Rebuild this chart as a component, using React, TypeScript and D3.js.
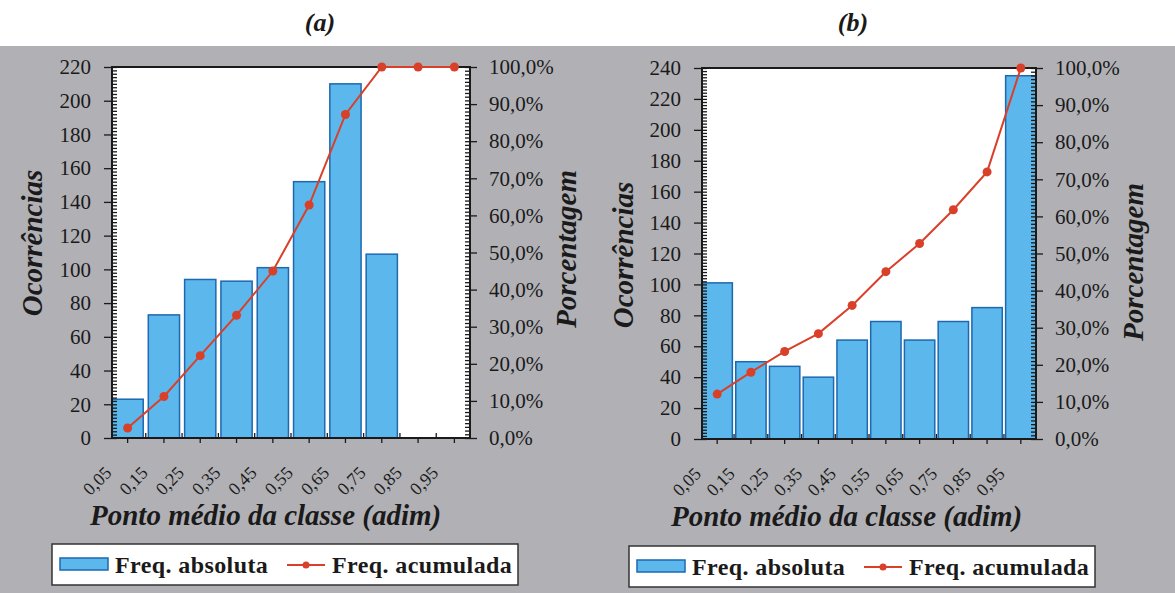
import React, {useEffect, useRef} from 'react';
import * as d3 from 'd3';

const classLabels = ['0,05', '0,15', '0,25', '0,35', '0,45', '0,55', '0,65', '0,75', '0,85', '0,95'];

// panel (a)
const freqAbsolutaA = [23, 73, 94, 93, 101, 152, 210, 109, 0, 0];
const freqAcumuladaA = [2.7, 11.2, 22.2, 33.1, 45.0, 62.8, 87.2, 100, 100, 100];
const countTicksA = [0, 20, 40, 60, 80, 100, 120, 140, 160, 180, 200, 220];

// panel (b)
const freqAbsolutaB = [101, 50, 47, 40, 64, 76, 64, 76, 85, 235];
const freqAcumuladaB = [12.1, 18.0, 23.6, 28.4, 36.0, 45.1, 52.7, 61.8, 72.0, 100];
const countTicksB = [0, 20, 40, 60, 80, 100, 120, 140, 160, 180, 200, 220, 240];

const percentTicks = [0, 10, 20, 30, 40, 50, 60, 70, 80, 90, 100];

const SERIF = 'Liberation Serif';
const BAR_FILL = '#5cb8ec';
const BAR_STROKE = '#1d68b0';
const LINE_RED = '#d8402a';
const INK = '#1a1a1a';

const panels = [
  {
    key: 'a', title: '(a)', titleX: 320,
    counts: freqAbsolutaA, cumul: freqAcumuladaA, countTicks: countTicksA,
    frame: {l: 112, r: 470, t: 67, b: 438}, pad: 0.14,
    yTitle: [42, 243], pTitle: [576, 249], xTitle: [90, 525],
    legend: {x: 52, y: 544, w: 466, h: 41}
  },
  {
    key: 'b', title: '(b)', titleX: 853,
    counts: freqAbsolutaB, cumul: freqAcumuladaB, countTicks: countTicksB,
    frame: {l: 702, r: 1036, t: 68, b: 439}, pad: 0.1,
    yTitle: [633, 255], pTitle: [1143, 262], xTitle: [671, 526],
    legend: {x: 629, y: 546, w: 466, h: 41}
  }
];

function styleAxis(sel: any, size: number) {
  sel.select('.domain').remove();
  sel.attr('font-family', SERIF).attr('font-size', size);
  sel.selectAll('line').attr('stroke', INK).attr('stroke-width', 1.3);
  sel.selectAll('text').attr('fill', INK).attr('font-family', SERIF);
}

function drawPanel(root: any, p: any) {
  const {l, r, t, b} = p.frame;
  const g = root.append('g');

  const x = d3.scaleBand().domain(classLabels).range([l, r]).paddingInner(p.pad).paddingOuter(0);
  const yMax = p.countTicks[p.countTicks.length - 1];
  const y = d3.scaleLinear().domain([0, yMax]).range([b, t]);
  const yp = d3.scaleLinear().domain([0, 100]).range([b, t]);
  const bw = x.bandwidth();

  // title
  g.append('text')
    .attr('x', p.titleX).attr('y', 31)
    .attr('text-anchor', 'middle')
    .attr('font-family', SERIF).attr('font-size', 26)
    .attr('font-weight', 'bold').attr('font-style', 'italic')
    .attr('fill', INK)
    .text(p.title);

  // plot area
  g.append('rect').attr('x', l).attr('y', t).attr('width', r - l).attr('height', b - t).attr('fill', '#fff');

  const barData = p.counts.map((v: number, i: number) => ({v, c: classLabels[i]})).filter((d: any) => d.v > 0);
  g.selectAll('rect.bar').data(barData).join('rect')
    .attr('class', 'bar')
    .attr('x', (d: any) => x(d.c))
    .attr('y', (d: any) => y(d.v))
    .attr('width', bw)
    .attr('height', (d: any) => b - y(d.v))
    .attr('fill', BAR_FILL)
    .attr('stroke', BAR_STROKE)
    .attr('stroke-width', 1.5);

  // left axis
  const minorCount = d3.range(0, yMax + 1, 2);
  g.append('g').attr('transform', `translate(${l},0)`)
    .call(d3.axisLeft(y).tickValues(minorCount).tickSize(-5).tickFormat(() => '') as any)
    .call((s: any) => styleAxis(s, 21));
  g.append('g').attr('transform', `translate(${l},0)`)
    .call(d3.axisLeft(y).tickValues(p.countTicks).tickSize(8).tickPadding(13) as any)
    .call((s: any) => styleAxis(s, 21));

  // right axis
  g.append('g').attr('transform', `translate(${r},0)`)
    .call(d3.axisRight(yp).tickValues(d3.range(0, 101, 1)).tickSize(-5).tickFormat(() => '') as any)
    .call((s: any) => styleAxis(s, 21));
  g.append('g').attr('transform', `translate(${r},0)`)
    .call(d3.axisRight(yp).tickValues(percentTicks).tickSize(7).tickPadding(12)
      .tickFormat((d: any) => `${d},0%`) as any)
    .call((s: any) => styleAxis(s, 21));

  // bottom ticks: centres outside, band boundaries inside
  g.append('g').attr('transform', `translate(0,${b})`)
    .call(d3.axisBottom(x).tickSize(5).tickFormat(() => '') as any)
    .call((s: any) => styleAxis(s, 18));
  const step = x.step();
  g.selectAll('line.bound').data(classLabels.slice(1)).join('line')
    .attr('class', 'bound')
    .attr('x1', (d: string) => (x(d) as number) - (step - bw) / 2)
    .attr('x2', (d: string) => (x(d) as number) - (step - bw) / 2)
    .attr('y1', b).attr('y2', b - 5)
    .attr('stroke', INK).attr('stroke-width', 1.3);

  // rotated class labels
  g.selectAll('text.xlab').data(classLabels).join('text')
    .attr('class', 'xlab')
    .attr('transform', (d: string) => `translate(${(x(d) as number) + bw / 2 - 15},${b + 36}) rotate(-45)`)
    .attr('text-anchor', 'end')
    .attr('font-family', SERIF).attr('font-size', 18)
    .attr('fill', INK)
    .text((d: string) => d);

  // frame
  g.append('rect').attr('x', l).attr('y', t).attr('width', r - l).attr('height', b - t)
    .attr('fill', 'none').attr('stroke', INK).attr('stroke-width', 2);

  // cumulative line
  const pts = p.cumul.map((v: number, i: number) => ({v, c: classLabels[i]}));
  const line = d3.line<any>()
    .x(d => (x(d.c) as number) + bw / 2)
    .y(d => yp(d.v));
  g.append('path').datum(pts).attr('d', line as any)
    .attr('fill', 'none').attr('stroke', LINE_RED).attr('stroke-width', 2);
  g.selectAll('circle.pt').data(pts).join('circle')
    .attr('class', 'pt')
    .attr('cx', (d: any) => (x(d.c) as number) + bw / 2)
    .attr('cy', (d: any) => yp(d.v))
    .attr('r', 4.5)
    .attr('fill', LINE_RED);

  // axis titles
  const titleText = (tx: number, ty: number, txt: string, rot: boolean) => {
    g.append('text')
      .attr('transform', `translate(${tx},${ty})` + (rot ? ' rotate(-90)' : ''))
      .attr('text-anchor', rot ? 'middle' : 'start')
      .attr('font-family', SERIF).attr('font-size', 29)
      .attr('font-weight', 'bold').attr('font-style', 'italic')
      .attr('fill', INK)
      .text(txt);
  };
  titleText(p.yTitle[0], p.yTitle[1], 'Ocorrências', true);
  titleText(p.pTitle[0], p.pTitle[1], 'Porcentagem', true);
  titleText(p.xTitle[0], p.xTitle[1], 'Ponto médio da classe (adim)', false);

  // legend
  const lg = p.legend;
  const leg = g.append('g').attr('transform', `translate(${lg.x},${lg.y})`);
  leg.append('rect').attr('width', lg.w).attr('height', lg.h)
    .attr('fill', '#fff').attr('stroke', '#333').attr('stroke-width', 1.5);
  leg.append('rect').attr('x', 8).attr('y', 14).attr('width', 48).attr('height', 12)
    .attr('fill', BAR_FILL).attr('stroke', BAR_STROKE).attr('stroke-width', 1.5);
  leg.append('text').attr('x', 63).attr('y', 29)
    .attr('font-family', SERIF).attr('font-size', 24).attr('font-weight', 'bold').attr('fill', INK)
    .attr('letter-spacing', 0.4)
    .text('Freq. absoluta');
  leg.append('line').attr('x1', 235).attr('x2', 273).attr('y1', 21).attr('y2', 21)
    .attr('stroke', LINE_RED).attr('stroke-width', 2);
  leg.append('circle').attr('cx', 254).attr('cy', 21).attr('r', 3.5).attr('fill', LINE_RED);
  leg.append('text').attr('x', 280).attr('y', 29)
    .attr('font-family', SERIF).attr('font-size', 24).attr('font-weight', 'bold').attr('fill', INK)
    .attr('letter-spacing', 0.4)
    .text('Freq. acumulada');
}

function App() {
  const svgRef = useRef(null);

  useEffect(() => {
    const svg = d3.select(svgRef.current);
    svg.selectAll('*').remove();
    svg.append('rect').attr('width', 1175).attr('height', 593).attr('fill', '#fff');
    svg.append('rect').attr('y', 46).attr('width', 1175).attr('height', 547).attr('fill', '#b1b1b5');
    panels.forEach(p => drawPanel(svg, p));
  });

  return (
    <svg ref={svgRef} width={1175} height={593}
      style={{position: 'absolute', left: 0, top: 0, display: 'block'}}/>
  );
}

export default App;
